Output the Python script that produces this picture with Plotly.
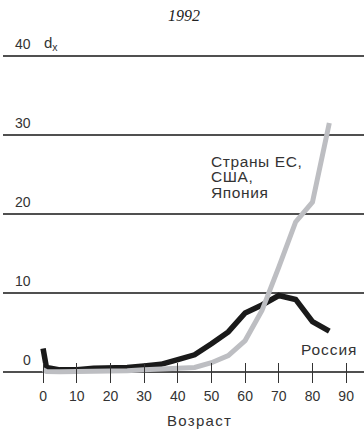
import plotly.graph_objects as go

ages = [0, 1, 5, 10, 15, 20, 25, 30, 35, 40, 45, 50, 55, 60, 65, 70, 75, 80, 85]
russia = [3.0, 0.6, 0.3, 0.3, 0.5, 0.5, 0.6, 0.8, 1.0, 1.6, 2.2, 3.6, 5.1, 7.5, 8.5, 9.7, 9.2, 6.4, 5.2]
eu_us_japan = [0.3, 0.1, 0.05, 0.05, 0.1, 0.1, 0.2, 0.3, 0.4, 0.5, 0.6, 1.2, 2.1, 4.0, 7.8, 13.3, 19.0, 21.5, 31.5]
x_ticks = [0, 10, 20, 30, 40, 50, 60, 70, 80, 90]
y_ticks = [0, 10, 20, 30, 40]
group_label = ["Страны ЕС,", "США,", "Япония"]
russia_label = "Россия"

FONT = "Liberation Sans, Arial, sans-serif"
TXT = "#333333"


def spaced(t, ls=0.8):
    return f'<span style="letter-spacing:{ls}px">{t}</span>'


fig = go.Figure()
fig.add_trace(go.Scatter(x=ages, y=russia, mode="lines",
                         line=dict(color="#1a1a1a", width=5.5), hoverinfo="skip"))
fig.add_trace(go.Scatter(x=ages, y=eu_us_japan, mode="lines",
                         line=dict(color="#bdbec2", width=5), hoverinfo="skip"))

annotations = []
for v in y_ticks:
    annotations.append(dict(x=0.083, xref="paper", y=v, yref="y", text=str(v),
                            showarrow=False, xanchor="right", yanchor="middle",
                            yshift=12, font=dict(family=FONT, size=14, color=TXT)))
annotations.append(dict(x=0.108, xref="paper", y=40, yref="y", text="d<sub>x</sub>",
                        showarrow=False, xanchor="left", yanchor="middle",
                        yshift=12, font=dict(family=FONT, size=15, color=TXT)))
annotations.append(dict(x=0.5, xref="paper", y=1, yref="paper", yanchor="middle",
                        yshift=29, xanchor="center", text="<i>1992</i>", showarrow=False,
                        font=dict(family="Liberation Serif, serif", size=16, color="#222")))
annotations.append(dict(x=46.5, xref="x", y=0, yref="paper", yanchor="middle",
                        yshift=-28, xanchor="center", text=spaced("Возраст", 1.3),
                        showarrow=False, font=dict(family=FONT, size=15, color=TXT)))
for i, line in enumerate(group_label):
    annotations.append(dict(x=49.3, xref="x", y=26.7 - 2.0 * i, yref="y", xanchor="left",
                            yanchor="middle", align="left", text=spaced(line, 0.6),
                            showarrow=False,
                            font=dict(family=FONT, size=15.5, color=TXT)))
annotations.append(dict(x=93.8, xref="x", y=2.9, yref="y", xanchor="right",
                        yanchor="middle", text=spaced(russia_label, 0.9), showarrow=False,
                        font=dict(family=FONT, size=15.5, color=TXT)))

fig.update_layout(
    annotations=annotations,
    width=364, height=432,
    margin=dict(l=3, r=0, t=44, b=40),
    paper_bgcolor="white", plot_bgcolor="white",
    showlegend=False,
    xaxis=dict(range=[-11.9, 95.3], tickvals=x_ticks, ticks="inside", ticklen=20,
               tickwidth=1.3, tickcolor="#333", showgrid=False, zeroline=False,
               showline=False, anchor="free", position=0.026, automargin=False,
               ticklabelstandoff=3,
               tickfont=dict(family=FONT, size=14, color=TXT), fixedrange=True),
    yaxis=dict(range=[-2.5, 41.5], tickvals=y_ticks, showticklabels=False,
               showgrid=True, gridcolor="#505050", gridwidth=1.5, zeroline=False,
               showline=False, fixedrange=True, automargin=False),
)
fig.write_html("out.html", config={"displayModeBar": False},
               post_script="document.body.style.margin='0';document.body.style.overflow='hidden';")
